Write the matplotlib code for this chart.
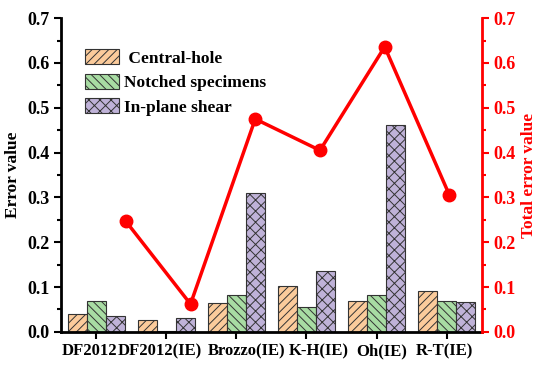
import matplotlib.pyplot as plt
import matplotlib.transforms as mtrans
import numpy as np
from matplotlib.ticker import MultipleLocator

plt.rcParams['font.family'] = ['Liberation Serif', 'DejaVu Serif']
plt.rcParams['font.weight'] = 'bold'
plt.rcParams['hatch.linewidth'] = 0.7

# data
categories = ['DF2012', 'DF2012(IE)', 'Brozzo(IE)', 'K-H(IE)', 'Oh(IE)', 'R-T(IE)']
central_hole = [0.040, 0.027, 0.065, 0.103, 0.070, 0.091]
notched = [0.069, 0.002, 0.083, 0.055, 0.082, 0.069]
in_plane = [0.035, 0.032, 0.310, 0.135, 0.461, 0.066]
total_error = [0.247, 0.062, 0.475, 0.405, 0.636, 0.305]

x = np.arange(len(categories))
w = 0.27
rect = [0.111, 0.103, 0.765, 0.848]

fig = plt.figure(figsize=(5.5, 3.7), dpi=100)
ax = fig.add_axes(rect)

ax.bar(x - w, central_hole, w, color='#FBCB9B', edgecolor='#333333', hatch='////', lw=0.8, label=' Central-hole')
ax.bar(x, notched, w, color='#A8DCA3', edgecolor='#333333', hatch='\\\\\\\\', lw=0.8, label='Notched specimens')
ax.bar(x + w, in_plane, w, color='#BFB2D8', edgecolor='#333333', hatch='xxx', lw=0.8, label='In-plane shear')

ax.set_xlim(-0.5, 5.5)
ax.set_ylim(0, 0.7)
ax.set_xticks(x)
ax.set_xticklabels(categories)
ax.yaxis.set_major_locator(MultipleLocator(0.1))
ax.yaxis.set_minor_locator(MultipleLocator(0.05))
ax.set_ylabel('Error value', fontsize=12.5, fontweight='bold')
ax.tick_params(axis='y', labelsize=13, width=1.5, length=5)
ax.tick_params(axis='x', labelsize=12, width=1.5, length=5, pad=3)
ax.tick_params(axis='y', which='minor', width=1.5, length=3)
for lbl in ax.get_xticklabels() + ax.get_yticklabels():
    lbl.set_fontweight('bold')

# the original labels are nudged a little off the tick centres
nudge_px = [-7, -6, 10, 12, 5, -2]
for lbl, dx in zip(ax.get_xticklabels(), nudge_px):
    lbl.set_transform(lbl.get_transform() + mtrans.ScaledTranslation(dx / 100, 0, fig.dpi_scale_trans))

ax.spines['top'].set_visible(False)
ax.spines['right'].set_visible(False)
ax.spines['left'].set_linewidth(2)
ax.spines['bottom'].set_linewidth(2)

# the line sits on its own x scale (points 1..6 on 0..6.5)
ax2 = fig.add_axes(rect, facecolor='none')
ax2.plot(x + 1, total_error, color='red', lw=2.5, marker='o', ms=9)
ax2.set_xlim(0, 6.5)
ax2.set_ylim(0, 0.7)
ax2.xaxis.set_visible(False)
ax2.yaxis.tick_right()
ax2.yaxis.set_label_position('right')
ax2.yaxis.set_major_locator(MultipleLocator(0.1))
ax2.yaxis.set_minor_locator(MultipleLocator(0.05))
ax2.set_ylabel('Total error value', fontsize=12.5, fontweight='bold', color='red')
ax2.tick_params(axis='y', which='both', colors='red', labelsize=13, width=1.5)
ax2.tick_params(axis='y', which='major', length=5)
ax2.tick_params(axis='y', which='minor', length=3)
for lbl in ax2.get_yticklabels():
    lbl.set_fontweight('bold')
ax2.spines['top'].set_visible(False)
ax2.spines['left'].set_visible(False)
ax2.spines['bottom'].set_visible(False)
ax2.spines['right'].set_color('red')
ax2.spines['right'].set_linewidth(2)

ax2.legend(*ax.get_legend_handles_labels(), loc='upper left', bbox_to_anchor=(0.02, 0.95),
           frameon=False, prop={'weight': 'bold', 'size': 12.5}, handlelength=1.95,
           handleheight=0.95, labelspacing=0.4, handletextpad=0.3)

fig.savefig('out.png', dpi=100)
